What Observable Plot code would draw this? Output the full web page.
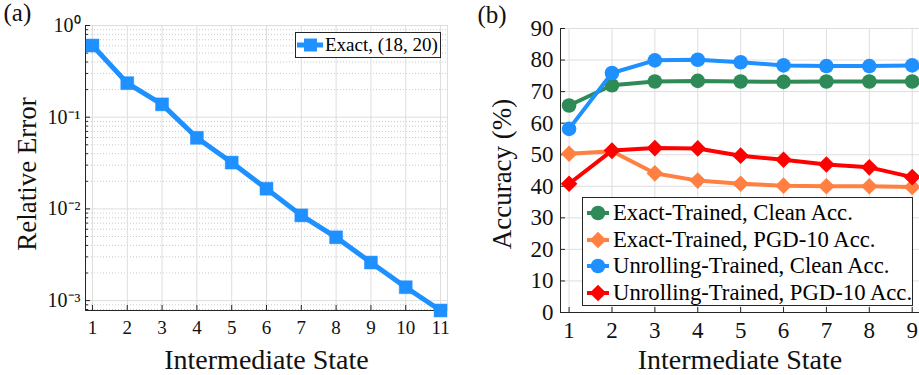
<!DOCTYPE html>
<html><head><meta charset="utf-8">
<script src="https://cdn.jsdelivr.net/npm/d3@7"></script>
<script src="https://cdn.jsdelivr.net/npm/@observablehq/plot@0.6"></script>
<style>
body{margin:0;background:#fff;}
#wrap{position:relative;width:919px;height:375px;display:flex;overflow:hidden;font-family:"Liberation Serif","Times New Roman",serif;}
.panel{position:relative;flex:none;}
.legend{position:absolute;background:#fff;border:1px solid #262626;box-sizing:border-box;}
.row{position:relative;display:flex;align-items:center;white-space:nowrap;color:#000;}
.row svg{flex:none;}
</style></head><body>
<div id="wrap"><div id="a" class="panel"></div><div id="b" class="panel"></div></div>
<script>
// ---------- Data ----------
const statesA = [1, 2, 3, 4, 5, 6, 7, 8, 9, 10, 11];
const relativeError = [0.605, 0.235, 0.138, 0.0596, 0.032, 0.0166, 0.0085, 0.0049, 0.0026, 0.0014, 0.00078];
const seriesA = "Exact, (18, 20)";
const yMajorA = [0.001, 0.01, 0.1, 1];
const yLabelsA = ["10\u207B\u00B3", "10\u207B\u00B2", "10\u207B\u00B9", "10\u2070"];

const statesB = [1, 2, 3, 4, 5, 6, 7, 8, 9];
const exactClean = [65.6, 72.0, 73.2, 73.4, 73.2, 73.1, 73.2, 73.2, 73.2];
const exactPGD = [50.3, 51.1, 44.1, 41.8, 40.8, 40.2, 40.0, 40.0, 39.8];
const unrollClean = [58.2, 75.9, 79.9, 80.1, 79.3, 78.3, 78.1, 78.1, 78.3];
const unrollPGD = [40.8, 51.3, 52.1, 52.0, 49.7, 48.4, 46.9, 46.0, 42.9];
const seriesNamesB = ["Exact-Trained, Clean Acc.", "Exact-Trained, PGD-10 Acc.", "Unrolling-Trained, Clean Acc.", "Unrolling-Trained, PGD-10 Acc."];
const yTicksB = [0, 10, 20, 30, 40, 50, 60, 70, 80, 90];

// ---------- Styles ----------
const BLUE = "#1E90FF", GREEN = "#2E8B57", ORANGE = "#FF8040", RED = "#FF0000";
const AX = "#262626", GRID = "#dedede", MINOR = "#c9c9c9";
const FONT = "Liberation Serif, Times New Roman, serif";

// minor log ticks
const yMinorA = [0.0001, 0.001, 0.01, 0.1].flatMap(p => [2,3,4,5,6,7,8,9].map(m => +(m * p).toPrecision(3))).filter(v => v >= 0.00078 && v <= 1);

const dataA = statesA.map((s, i) => ({s, v: relativeError[i]}));

const plotA = Plot.plot({
  width: 459, height: 375,
  marginLeft: 85, marginRight: 12, marginTop: 25, marginBottom: 65,
  style: {fontFamily: FONT, background: "transparent", overflow: "visible", color: AX},
  x: {domain: [0.8, 11.2]},
  y: {type: "log", domain: [0.00078, 1]},
  marks: [
    Plot.gridY(yMinorA, {stroke: MINOR, strokeOpacity: 1, strokeDasharray: "1,2"}),
    Plot.gridY(yMajorA, {stroke: GRID, strokeOpacity: 1}),
    Plot.gridX(statesA, {stroke: GRID, strokeOpacity: 1}),
    Plot.frame({stroke: GRID}),
    Plot.ruleX([0.8], {stroke: AX}),
    Plot.ruleY([0.00078], {stroke: AX}),
    Plot.axisY(yMajorA, {tickSize: 0, tickPadding: 5, fontSize: 20, label: null, fill: "#111",
      tickFormat: d => yLabelsA[yMajorA.indexOf(d)]}),
    Plot.axisY(yMajorA, {tickSize: 5, dx: 5, fill: "none", label: null, stroke: AX}),
    Plot.axisY(yMinorA, {tickSize: 3, dx: 3, fill: "none", label: null, stroke: AX}),
    Plot.axisX(statesA, {tickSize: 0, tickPadding: 10, fontSize: 19, label: null, fill: "#111", tickFormat: d => String(d)}),
    Plot.axisX(statesA, {tickSize: 5, dy: -5, fill: "none", label: null, stroke: AX}),
    Plot.line(dataA, {x: "s", y: "v", stroke: BLUE, strokeWidth: 5}),
    Plot.dot(dataA, {x: "s", y: "v", symbol: "square", r: 7.3, fill: BLUE, stroke: BLUE, strokeWidth: 0.5}),
    Plot.text(["Intermediate State"], {frameAnchor: "bottom", lineAnchor: "bottom", dy: 58, fontSize: 28, fill: "#111"}),
    Plot.text(["Relative Error"], {frameAnchor: "left", rotate: -90, textAnchor: "middle", lineAnchor: "bottom", dx: -50, dy: 6, fontSize: 27, fill: "#111"}),
    Plot.text(["(a)"], {frameAnchor: "top-left", textAnchor: "start", lineAnchor: "bottom", dx: -82, dy: -5, fontSize: 25, fill: "#111"})
  ]
});

const seriesB = [
  {name: seriesNamesB[0], values: exactClean, color: GREEN, symbol: "circle"},
  {name: seriesNamesB[1], values: exactPGD, color: ORANGE, symbol: "diamond2"},
  {name: seriesNamesB[2], values: unrollClean, color: BLUE, symbol: "circle"},
  {name: seriesNamesB[3], values: unrollPGD, color: RED, symbol: "diamond2"}
];
const marksB = [];
for (const s of seriesB) {
  const d = statesB.map((x, i) => ({s: x, v: s.values[i]}));
  marksB.push(Plot.line(d, {x: "s", y: "v", stroke: s.color, strokeWidth: 4}));
  marksB.push(Plot.dot(d, {x: "s", y: "v", symbol: s.symbol, r: s.symbol === "circle" ? 7.3 : 7.5, fill: s.color}));
}

const plotB = Plot.plot({
  width: 460, height: 375,
  marginLeft: 101, marginRight: 0, marginTop: 28, marginBottom: 63,
  style: {fontFamily: FONT, background: "transparent", overflow: "visible", color: AX},
  x: {domain: [0.8, 9.17]},
  y: {domain: [0, 90]},
  marks: [
    Plot.gridY(yTicksB, {stroke: GRID, strokeOpacity: 1}),
    Plot.gridX(statesB, {stroke: GRID, strokeOpacity: 1}),
    Plot.ruleX([0.8], {stroke: AX}),
    Plot.ruleY([0], {stroke: AX}),
    Plot.axisY(yTicksB, {tickSize: 0, tickPadding: 7, fontSize: 23, label: null, fill: "#111"}),
    Plot.axisY(yTicksB, {tickSize: 5, dx: 5, fill: "none", label: null, stroke: AX}),
    Plot.axisX(statesB, {tickSize: 0, tickPadding: 9, fontSize: 23, label: null, fill: "#111"}),
    Plot.axisX(statesB, {tickSize: 5, dy: -5, fill: "none", label: null, stroke: AX}),
    ...marksB,
    Plot.text(["Intermediate State"], {frameAnchor: "bottom", lineAnchor: "bottom", dy: 56, fontSize: 28, fill: "#111"}),
    Plot.text(["Accuracy (%)"], {frameAnchor: "left", rotate: -90, textAnchor: "middle", lineAnchor: "bottom", dx: -50, dy: 3.5, fontSize: 27, fill: "#111"}),
    Plot.text(["(b)"], {frameAnchor: "top-left", textAnchor: "start", lineAnchor: "bottom", dx: -83, dy: -5.5, fontSize: 25, fill: "#111"})
  ]
});

document.getElementById("a").appendChild(plotA);
document.getElementById("b").appendChild(plotB);

// ---------- Legends (HTML overlay) ----------
function markerSvg(color, symbol, w, h, x0, x1, cx, lw, r) {
  const ns = "http://www.w3.org/2000/svg";
  const svg = document.createElementNS(ns, "svg");
  svg.setAttribute("width", w); svg.setAttribute("height", h);
  const line = document.createElementNS(ns, "line");
  line.setAttribute("x1", x0); line.setAttribute("x2", x1);
  line.setAttribute("y1", h / 2); line.setAttribute("y2", h / 2);
  line.setAttribute("stroke", color); line.setAttribute("stroke-width", lw);
  svg.appendChild(line);
  const p = document.createElementNS(ns, "path");
  const sym = symbol === "square" ? d3.symbolSquare : symbol === "diamond2" ? d3.symbolDiamond2 : d3.symbolCircle;
  p.setAttribute("d", d3.symbol(sym, Math.PI * r * r)());
  p.setAttribute("transform", `translate(${cx},${h / 2})`);
  p.setAttribute("fill", color);
  svg.appendChild(p);
  return svg;
}

const legA = document.createElement("div");
legA.className = "legend";
Object.assign(legA.style, {left: "295px", top: "32px", width: "146px", height: "26px"});
const rowA = document.createElement("div");
rowA.className = "row";
rowA.style.height = "24px";
rowA.style.fontSize = "19px";
rowA.appendChild(markerSvg(BLUE, "square", 29, 24, 1, 27, 14.5, 5, 7.3));
const tA = document.createElement("span"); tA.textContent = seriesA;
rowA.appendChild(tA);
legA.appendChild(rowA);
document.getElementById("a").appendChild(legA);

const legB = document.createElement("div");
legB.className = "legend";
Object.assign(legB.style, {left: "123px", top: "197px", width: "331px", height: "109px", paddingTop: "2px"});
for (const s of seriesB) {
  const row = document.createElement("div");
  row.className = "row";
  row.style.height = "26.5px";
  row.style.fontSize = "22.7px";
  row.appendChild(markerSvg(s.color, s.symbol, 30, 26, 4, 26, 15, 4, s.symbol === "circle" ? 7.3 : 7.5));
  const t = document.createElement("span"); t.textContent = s.name;
  row.appendChild(t);
  legB.appendChild(row);
}
document.getElementById("b").appendChild(legB);
</script>
</body></html>
